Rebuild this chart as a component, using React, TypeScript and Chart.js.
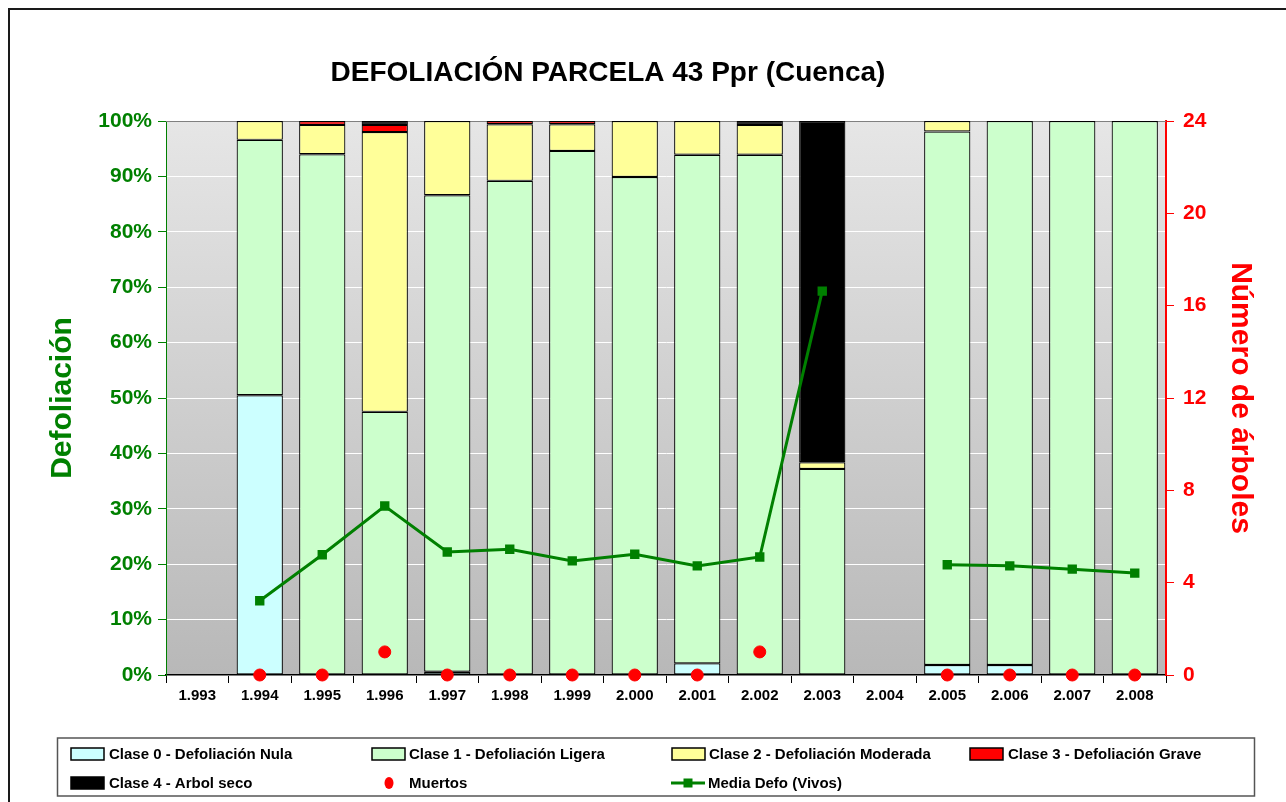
import React, { useEffect, useRef } from "react";
import { Chart, registerables } from "chart.js";

Chart.register(...registerables);

const years = ["1.993", "1.994", "1.995", "1.996", "1.997", "1.998", "1.999", "2.000", "2.001", "2.002", "2.003", "2.004", "2.005", "2.006", "2.007", "2.008"];
const clase0 = [null, 50.5, null, null, 0.6, null, null, null, 2.1, null, null, null, 1.8, 1.8, null, null];
const clase1 = [null, 46.1, 94.0, 47.5, 86.0, 89.2, 94.6, 89.9, 91.8, 93.9, 37.2, null, 96.3, 98.2, 100, 100];
const clase2 = [null, 3.4, 5.3, 50.5, 13.4, 10.2, 4.8, 10.1, 6.1, 5.4, 1.2, null, 1.9, null, null, null];
const clase3 = [null, null, 0.7, 1.3, null, 0.6, 0.6, null, null, null, null, null, null, null, null, null];
const clase4 = [null, null, null, 0.7, null, null, null, null, null, 0.7, 61.6, null, null, null, null, null];
const muertos = [null, 0, 0, 1, 0, 0, 0, 0, 0, 1, null, null, 0, 0, 0, 0];
const mediaDefo = [null, 13.4, 21.7, 30.5, 22.2, 22.7, 20.6, 21.8, 19.7, 21.3, 69.3, null, 19.9, 19.7, 19.1, 18.4];

const chartTitle = "DEFOLIACIÓN PARCELA 43 Ppr (Cuenca)";
const leftTitle = "Defoliación";
const rightTitle = "Número de árboles";
const seriesNames = [
  "Clase 0 - Defoliación Nula",
  "Clase 1 - Defoliación Ligera",
  "Clase 2 - Defoliación Moderada",
  "Clase 3 - Defoliación Grave",
  "Clase 4 - Arbol seco",
  "Muertos",
  "Media Defo (Vivos)",
];
const barColors = ["#CCFFFF", "#CCFFCC", "#FFFF99", "#FF0000", "#000000"];
const GREEN = "#008000";
const RED = "#FF0000";
const FONT = 'Arial, "Liberation Sans", sans-serif';

const W = 1278;
const H = 794;

const decorPlugin = {
  id: "decor",
  beforeDraw(chart: any) {
    const { ctx, chartArea: a } = chart;
    ctx.save();
    ctx.fillStyle = "#ffffff";
    ctx.fillRect(0, 0, chart.width, chart.height);
    const g = ctx.createLinearGradient(0, a.top, 0, a.bottom);
    g.addColorStop(0, "#e6e6e6");
    g.addColorStop(1, "#b8b8b8");
    ctx.fillStyle = g;
    ctx.fillRect(a.left, a.top, a.right - a.left, a.bottom - a.top);
    // outer border (left & top visible)
    ctx.fillStyle = "#1a1a1a";
    ctx.fillRect(0, 0, 2, chart.height);
    ctx.fillRect(0, 0, chart.width, 2);
    // title
    ctx.fillStyle = "#000";
    ctx.font = `bold 28px ${FONT}`;
    ctx.textAlign = "center";
    ctx.textBaseline = "middle";
    ctx.fillText(chartTitle, 600, 65);
    ctx.restore();
  },
  beforeDatasetsDraw(chart: any) {
    const { ctx, chartArea: a } = chart;
    ctx.save();
    ctx.strokeStyle = "#808080";
    ctx.lineWidth = 1;
    ctx.beginPath();
    ctx.moveTo(a.left, a.top + 0.5);
    ctx.lineTo(a.right, a.top + 0.5);
    ctx.stroke();
    ctx.restore();
  },
  afterDraw(chart: any) {
    const { ctx } = chart;
    ctx.save();
    // legend box
    ctx.strokeStyle = "#555";
    ctx.lineWidth = 1.5;
    ctx.strokeRect(49.5, 730, 1197, 58);
    ctx.font = `bold 15px ${FONT}`;
    ctx.textAlign = "left";
    ctx.textBaseline = "middle";
    const r1 = 746;
    const r2 = 775;
    const items = [
      { kind: "box", color: barColors[0], sx: 63, tx: 101, y: r1, label: seriesNames[0] },
      { kind: "box", color: barColors[1], sx: 364, tx: 401, y: r1, label: seriesNames[1] },
      { kind: "box", color: barColors[2], sx: 664, tx: 701, y: r1, label: seriesNames[2] },
      { kind: "box", color: barColors[3], sx: 962, tx: 1000, y: r1, label: seriesNames[3] },
      { kind: "box", color: barColors[4], sx: 63, tx: 101, y: r2, label: seriesNames[4] },
      { kind: "dot", color: RED, sx: 381, tx: 401, y: r2, label: seriesNames[5] },
      { kind: "line", color: GREEN, sx: 663, tx: 700, y: r2, label: seriesNames[6] },
    ];
    for (const it of items) {
      if (it.kind === "box") {
        ctx.fillStyle = it.color;
        ctx.fillRect(it.sx, it.y - 6, 33, 12);
        ctx.strokeStyle = "#000";
        ctx.lineWidth = 1.5;
        ctx.strokeRect(it.sx, it.y - 6, 33, 12);
      } else if (it.kind === "dot") {
        ctx.fillStyle = it.color;
        ctx.beginPath();
        ctx.ellipse(it.sx, it.y, 4.5, 6, 0, 0, Math.PI * 2);
        ctx.fill();
      } else {
        ctx.strokeStyle = it.color;
        ctx.lineWidth = 3;
        ctx.beginPath();
        ctx.moveTo(it.sx, it.y);
        ctx.lineTo(it.sx + 34, it.y);
        ctx.stroke();
        ctx.fillStyle = it.color;
        ctx.fillRect(it.sx + 17 - 4.5, it.y - 4.5, 9, 9);
      }
      ctx.fillStyle = "#000";
      ctx.fillText(it.label, it.tx, it.y + 1);
    }
    ctx.restore();
  },
};

export default function App() {
  const ref = useRef<HTMLCanvasElement | null>(null);
  useEffect(() => {
    if (!ref.current) return;
    Chart.defaults.font.family = FONT;
    const barDs = (i: number, data: any[]) => ({
      type: "bar" as const,
      label: seriesNames[i],
      data,
      backgroundColor: barColors[i],
      borderColor: "#000000",
      borderWidth: 1.2,
      borderSkipped: false,
      stack: "bars",
      yAxisID: "y",
      order: 2,
      barPercentage: 0.74,
      categoryPercentage: 1,
    });
    const chart = new Chart(ref.current, {
      type: "bar",
      data: {
        labels: years,
        datasets: [
          {
            type: "line",
            label: seriesNames[5],
            data: muertos,
            yAxisID: "y1",
            showLine: false,
            pointStyle: "circle",
            pointRadius: 6,
            pointBackgroundColor: RED,
            pointBorderColor: RED,
            borderColor: RED,
            backgroundColor: RED,
            order: 0,
            clip: false,
          } as any,
          {
            type: "line",
            label: seriesNames[6],
            data: mediaDefo,
            yAxisID: "y",
            stack: "line",
            borderColor: GREEN,
            backgroundColor: GREEN,
            borderWidth: 3,
            pointStyle: "rect",
            pointRadius: 4.5,
            pointBackgroundColor: GREEN,
            pointBorderColor: GREEN,
            spanGaps: false,
            tension: 0,
            order: 1,
            clip: false,
          } as any,
          barDs(0, clase0),
          barDs(1, clase1),
          barDs(2, clase2),
          barDs(3, clase3),
          barDs(4, clase4),
        ],
      },
      options: {
        responsive: false,
        animation: false,
        layout: { padding: { left: 33, right: 24, top: 113, bottom: 97 } },
        plugins: {
          legend: { display: false },
          title: { display: false },
          tooltip: { enabled: false },
        },
        scales: {
          x: {
            stacked: true,
            offset: true,
            grid: {
              offset: true,
              drawOnChartArea: false,
              tickLength: 8,
              tickColor: "#000",
            },
            border: { color: "#000", width: 1.5 },
            ticks: {
              color: "#000",
              font: { size: 15, weight: "bold" },
              padding: 4,
              maxRotation: 0,
              autoSkip: false,
            },
            afterFit(scale: any) {
              scale.height = 30;
            },
          },
          y: {
            stacked: true,
            position: "left",
            min: 0,
            max: 100,
            ticks: {
              stepSize: 10,
              color: GREEN,
              font: { size: 21, weight: "bold" },
              padding: 6,
              callback: (v: any) => `${v}%`,
            },
            grid: {
              color: "#ffffff",
              lineWidth: 1,
              tickColor: GREEN,
              tickLength: 8,
            },
            border: { color: GREEN, width: 1 },
            title: {
              display: true,
              text: leftTitle,
              color: GREEN,
              font: { size: 30, weight: "bold" },
            },
            afterFit(scale: any) {
              scale.width = 125;
            },
          },
          y1: {
            position: "right",
            min: 0,
            max: 24,
            ticks: {
              stepSize: 4,
              color: RED,
              font: { size: 21, weight: "bold" },
              padding: 9,
            },
            grid: {
              drawOnChartArea: false,
              tickColor: RED,
              tickLength: 8,
            },
            border: { color: RED, width: 2 },
            title: {
              display: true,
              text: rightTitle,
              color: RED,
              font: { size: 30, weight: "bold" },
            },
            afterFit(scale: any) {
              scale.width = 96;
            },
          },
        },
      },
      plugins: [decorPlugin],
    } as any);
    return () => chart.destroy();
  }, []);
  return (
    <div style={{ position: "absolute", left: 8, top: 8, width: W, height: H }}>
      <canvas ref={ref} width={W} height={H} style={{ display: "block" }} />
    </div>
  );
}
